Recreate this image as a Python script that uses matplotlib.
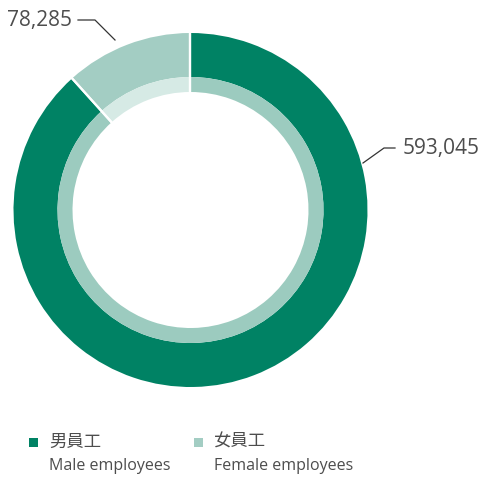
import matplotlib
matplotlib.use("Agg")
import matplotlib.pyplot as plt
import numpy as np

categories_zh = ["男員工", "女員工"]
categories_en = ["Male employees", "Female employees"]
values = [593045, 78285]
value_labels = ["593,045", "78,285"]

outer_colors = ["#008264", "#a3cdc3"]
inner_colors = ["#9ccbbf", "#d6eae5"]
text_color = "#4d4d4d"

fam = ["Open Sans", "Noto Sans CJK TC", "DejaVu Sans"]
fam_zh = ["Noto Sans CJK TC", "DejaVu Sans"]

fig = plt.figure(figsize=(4.79, 4.78), dpi=100)
ax = fig.add_axes([0, 0, 1, 1])

cx, cy = 190.5, 478 - 210
R = 177
wedges, _ = ax.pie(values, colors=outer_colors, radius=R, center=(cx, cy), startangle=90,
                   counterclock=False, wedgeprops=dict(width=R - 133, linewidth=0),
                   frame=True)
ax.pie(values, colors=inner_colors, radius=133, center=(cx, cy), startangle=90,
       counterclock=False, wedgeprops=dict(width=133 - 118, linewidth=0),
       frame=True)
# white radial separators at wedge boundaries
for w in wedges:
    for ang in (w.theta1, w.theta2):
        a = np.deg2rad(ang)
        ax.plot([cx + 117 * np.cos(a), cx + (R + 1) * np.cos(a)],
                [cy + 117 * np.sin(a), cy + (R + 1) * np.sin(a)],
                color="white", lw=1.6, solid_capstyle="butt")

ax.set_xlim(0, 479)
ax.set_ylim(0, 478)
ax.set_aspect("equal")
ax.axis("off")

# leader lines and labels
ax.plot([395, 384, 363], [478 - 148, 478 - 148, 478 - 163], color="#333333", lw=0.9)
ax.text(403, 478 - 148, value_labels[0], fontsize=15, color=text_color, family=fam,
        va="center", ha="left")
ax.plot([78, 95, 115], [478 - 20, 478 - 20, 478 - 40], color="#333333", lw=0.9)
ax.text(72, 478 - 20, value_labels[1], fontsize=15, color=text_color, family=fam,
        va="center", ha="right")

# legend
leg_x = [34, 199]
for i in range(2):
    ax.add_patch(plt.Rectangle((leg_x[i] - 4.5, 478 - 446.5), 9, 9, color=outer_colors[i], lw=0))
    ax.text(leg_x[i] + 15, 478 - 442, categories_zh[i], fontsize=12.5, color=text_color,
            family=fam_zh, va="center", ha="left", fontweight="light")
    ax.text(leg_x[i] + 15, 478 - 466, categories_en[i], fontsize=11.5, color=text_color,
            family=fam, va="center", ha="left")

fig.savefig("out.png", dpi=100, facecolor="white")
